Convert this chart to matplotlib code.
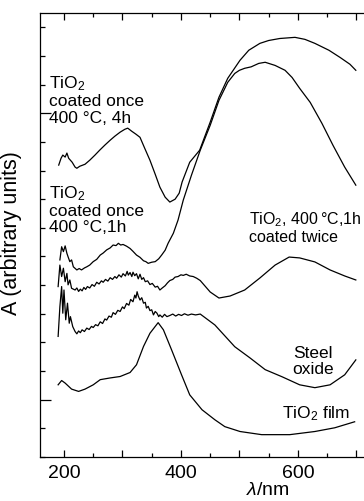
import matplotlib
matplotlib.use("Agg")
import matplotlib.pyplot as plt
from matplotlib.ticker import MultipleLocator, FuncFormatter

plt.rcParams["font.family"] = ["Liberation Sans", "DejaVu Sans"]
plt.rcParams["mathtext.fontset"] = "custom"
plt.rcParams["mathtext.rm"] = "Liberation Sans"
plt.rcParams["mathtext.it"] = "Liberation Sans:italic"

# absorbance spectra, wavelength in nm, A in arbitrary (offset) units
wl_4h = [191, 195, 198, 202, 205, 208, 214, 219, 222, 227, 236, 244, 253, 261, 270, 279,
         287, 296, 304, 309, 316, 323, 330, 338, 347, 356, 364, 373, 381, 390, 397, 402,
         415, 432, 450, 465, 480, 501, 516, 535, 550, 569, 595, 612, 629, 653, 672, 689, 699]
a_4h = [8.19, 8.43, 8.54, 8.47, 8.61, 8.43, 8.29, 8.12, 8.08, 8.15, 8.22, 8.36, 8.54, 8.71,
        8.89, 9.06, 9.20, 9.34, 9.44, 9.48, 9.37, 9.27, 9.16, 8.78, 8.36, 7.87, 7.42, 7.07,
        6.90, 7.00, 7.21, 7.60, 8.29, 8.71, 9.69, 10.56, 11.22, 11.85, 12.20, 12.44, 12.54,
        12.61, 12.65, 12.58, 12.44, 12.20, 11.95, 11.71, 11.50]

wl_1h = [193, 196, 199, 202, 205, 207, 210, 213, 216,
         222, 226, 230, 235, 239, 244, 250, 256, 262, 267, 273, 279, 284, 289, 293, 297,
         301, 307, 313, 318, 324, 330, 336, 340, 344, 350, 356, 362, 367, 373, 378,
         387, 395, 404, 418, 433, 450, 465, 480, 492, 500, 509, 520, 533, 544, 561, 578,
         590, 603, 621, 641, 660, 680, 699]
a_1h = [4.88, 5.34, 5.17, 5.37, 5.11, 4.99, 4.82, 4.88, 4.64,
        4.53, 4.58, 4.53, 4.60, 4.64, 4.70, 4.82, 4.90, 5.05, 5.12, 5.23, 5.30, 5.40, 5.38,
        5.46, 5.40, 5.42, 5.36, 5.28, 5.18, 5.05, 4.97, 4.85, 4.82, 4.76, 4.80, 4.82, 4.92,
        5.05, 5.22, 5.46,
        5.81, 6.27, 6.97, 7.84, 8.71, 9.58, 10.45, 11.08, 11.39, 11.50, 11.57, 11.62, 11.74,
        11.78, 11.67, 11.50, 11.25, 10.87, 10.38, 9.65, 8.88, 8.12, 7.49]

wl_twice = [190, 193, 196, 199, 202, 205, 207, 210, 213,
            219, 222, 225, 228, 231, 234, 237, 240, 244, 248, 252, 256, 260, 264, 267, 271,
            275, 279, 283, 287, 290, 294, 298, 301, 305, 308, 310, 313, 316, 318, 321, 324,
            327, 330, 333, 336, 339, 343, 347, 351, 356, 360, 364, 368, 373, 377, 381, 386,
            390, 395, 400, 404, 409, 415, 421, 427, 433,
            450, 465, 484, 509, 535, 561, 585, 603, 629, 655, 680, 699]
a_twice = [3.95, 4.70, 4.30, 4.59, 4.12, 4.41, 4.01, 4.18, 3.89,
           3.83, 3.90, 3.78, 3.86, 3.80, 3.92, 3.85, 3.95, 3.90, 4.02, 3.96, 4.10, 4.04,
           4.15, 4.10, 4.20, 4.14, 4.26, 4.20, 4.30, 4.24, 4.36, 4.28, 4.40, 4.32, 4.48,
           4.35, 4.44, 4.30, 4.45, 4.33, 4.40, 4.22, 4.38, 4.20, 4.26, 4.12, 4.15, 4.02,
           4.06, 3.93, 3.96, 3.83, 3.90, 3.98, 4.08, 4.16, 4.20, 4.28, 4.30, 4.36, 4.34,
           4.38, 4.32, 4.30, 4.24, 4.16,
           3.76, 3.55, 3.62, 3.83, 4.25, 4.70, 4.98, 4.95, 4.81, 4.53, 4.32, 4.18]

wl_steel = [190, 193, 196, 198, 200, 203, 206, 209, 211, 215,
            219, 222, 225, 228, 231, 235, 239, 243, 247, 250, 254, 258, 262, 266, 270, 273,
            277, 281, 284, 288, 292, 296, 300, 303, 307, 311, 314, 318, 321, 323, 325, 327,
            330, 333, 336, 339, 341, 344, 347, 350, 353, 356, 359, 362, 364, 368, 372, 376,
            381, 386, 391, 396, 401, 406, 412, 418, 425, 433,
            458, 492, 518, 544, 573, 603, 629, 655, 680, 699]
a_steel = [2.21, 3.25, 3.95, 3.02, 3.83, 2.79, 3.37, 2.67, 2.90, 2.55,
           2.38, 2.30, 2.40, 2.34, 2.44, 2.38, 2.50, 2.45, 2.56, 2.52, 2.62, 2.58, 2.72,
           2.66, 2.82, 2.78, 2.92, 2.88, 3.04, 2.98, 3.12, 3.08, 3.24, 3.18, 3.36, 3.30,
           3.50, 3.42, 3.65, 3.55, 3.77, 3.62, 3.48, 3.56, 3.37, 3.40, 3.20, 3.26, 3.11,
           3.14, 2.96, 3.08, 3.02, 2.90, 2.96, 2.88, 2.98, 2.90, 2.94, 2.99, 2.92, 2.98,
           2.94, 3.00, 2.95, 2.99, 2.96, 2.99,
           2.61, 1.85, 1.46, 1.05, 0.80, 0.52, 0.42, 0.52, 0.87, 1.39]

wl_film = [190, 196, 202, 213, 225, 236, 250, 262, 279, 296, 313, 324, 336, 347, 361, 370,
           384, 401, 415, 436, 458, 475, 501, 538, 586, 629, 663, 697]
a_film = [0.52, 0.67, 0.58, 0.37, 0.29, 0.37, 0.52, 0.70, 0.76, 0.81, 0.95, 1.22, 1.86,
          2.32, 2.69, 2.44, 1.74, 0.87, 0.17, -0.35, -0.70, -0.94, -1.11, -1.22, -1.22,
          -1.11, -0.98, -0.77]

fig = plt.figure(figsize=(3.64, 5.01), dpi=100)
ax = fig.add_axes([40 / 364, 44 / 501, 324 / 364, 444 / 501])

for wl, a in [(wl_4h, a_4h), (wl_1h, a_1h), (wl_twice, a_twice),
              (wl_steel, a_steel), (wl_film, a_film)]:
    ax.plot(wl, a, color="black", linewidth=0.9)

ax.set_xlim(159, 713)
ax.set_ylim(-2, 13.5)
ax.spines["right"].set_visible(False)
for s in ["left", "bottom", "top"]:
    ax.spines[s].set_linewidth(0.9)

ax.xaxis.set_major_locator(MultipleLocator(100))
ax.xaxis.set_minor_locator(MultipleLocator(50))
ax.xaxis.set_major_formatter(FuncFormatter(lambda v, p: f"{v:.0f}" if v % 200 == 0 else ""))
ax.yaxis.set_major_locator(MultipleLocator(10))
ax.yaxis.set_minor_locator(MultipleLocator(1))
ax.yaxis.set_major_formatter(FuncFormatter(lambda v, p: ""))
ax.tick_params(axis="x", which="both", direction="in", top=True, labelsize=14, width=0.9)
ax.tick_params(axis="x", which="major", length=5, pad=6)
ax.tick_params(axis="x", which="minor", length=3)
ax.tick_params(axis="y", which="both", direction="in", right=False, width=0.9)
ax.tick_params(axis="y", which="major", length=8)
ax.tick_params(axis="y", which="minor", length=3.5)

ax.set_xlabel(r"$\it{\lambda}$/nm", fontsize=14)
ax.xaxis.set_label_coords((268 - 40) / 324, -0.056)
ax.set_ylabel("A (arbitrary units)", fontsize=15.5)
ax.yaxis.set_label_coords(-0.055, 0.505)

fs = 12.5
ax.text(174, 11.35, "TiO$_2$\ncoated once\n400 °C, 4h", fontsize=fs, va="top", ha="left",
        linespacing=1.1)
ax.text(174, 7.52, "TiO$_2$\ncoated once\n400 °C,1h", fontsize=fs, va="top", ha="left",
        linespacing=1.1)
ax.text(516, 6.62, "TiO$_2$, 400\u2009°C,1h\ncoated twice", fontsize=11.5, va="top",
        ha="left", linespacing=1.12)
ax.text(626, 1.88, "Steel\noxide", fontsize=fs, va="top", ha="center", linespacing=1.1)
ax.text(573, -0.17, "TiO$_2$ film", fontsize=fs, va="top", ha="left")

fig.savefig("out.png", dpi=100)
